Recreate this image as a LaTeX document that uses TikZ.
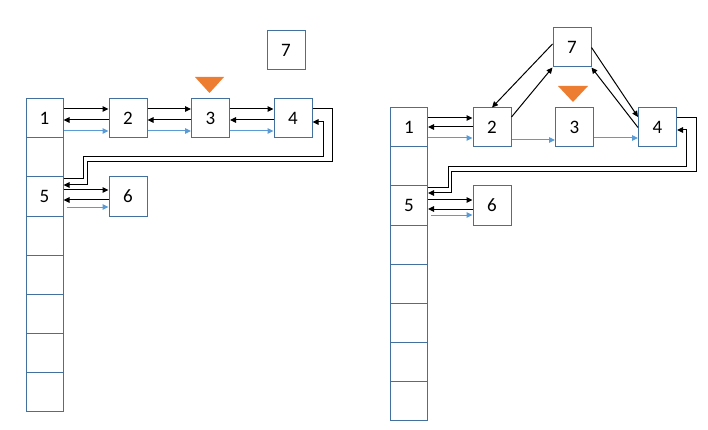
\documentclass[tikz,border=0pt]{standalone}
\usepackage{fontspec}
\setmainfont{Carlito}
\usetikzlibrary{calc,arrows.meta}
\definecolor{boxblue}{HTML}{41719C}
\definecolor{linkblue}{HTML}{5B9BD5}
\definecolor{marker}{HTML}{ED7D31}
\tikzset{
	box/.style={draw=boxblue, line width=1pt, minimum width=38pt, minimum height=39pt, inner sep=0pt, font=\fontsize{19}{20}\selectfont},
	cell/.style={box, minimum width=37pt},
	fwd/.style={line width=1pt, -{Triangle[length=6pt,width=5.5pt]}},
	lnk/.style={fwd, draw=linkblue, -{Triangle[length=6pt,width=5.5pt,fill=linkblue]}}
}
\begin{document}
\begin{tikzpicture}[x=1pt,y=-1pt]
		%%%%% START %%%%%
		\useasboundingbox (0,0) rectangle (708,430);
		
		%% left picture
		\foreach \i/\t in {1/1,2/,3/5,4/,5/,6/,7/,8/}
			\node[cell] (lc\i) at (44.5, {79.5+39*\i}) {\t};
		\node[box] (la2) at (128, 118.5) {2};
		\node[box] (la3) at (210.5, 118.5) {3};
		\node[box] (la4) at (293, 118.5) {4};
		\node[box] (la6) at (128, 196.5) {6};
		\node[box] (la7) at (286, 50.5) {7};
		\fill[marker] (195,77) -- (224,77) -- (209.5,93) -- cycle;
		
		\foreach \a/\b in {lc1/la2, la2/la3, la3/la4} {
			\draw[fwd] ($(\a.east)+(0,-9.5)$) -- ($(\b.west)+(0,-9.5)$);
			\draw[fwd] ($(\b.west)+(0,1.5)$) -- ($(\a.east)+(0,1.5)$);
			\draw[lnk] ($(\a.east)+(0,12.5)$) -- ($(\b.west)+(0,12.5)$);
		}
		\draw[fwd] ($(lc3.east)+(0,-6.5)$) -- ($(la6.west)+(0,-6.5)$);
		\draw[fwd] ($(la6.west)+(0,3.5)$) -- ($(lc3.east)+(0,3.5)$);
		\draw[lnk] ($(lc3.east)+(3,10.5)$) -- ($(la6.west)+(0,10.5)$);
		
		\draw[fwd] ($(la4.east)+(0,-9.5)$) -| (332,162) -| (87,185) -- ($(lc3.east)+(0,-11.5)$);
		\draw[fwd] ($(lc3.east)+(0,-17.5)$) -| (83,157) -| (323,122) -- ($(la4.east)+(0,3.5)$);
		
		%% right picture
		\foreach \i/\t in {1/1,2/,3/5,4/,5/,6/,7/,8/}
			\node[cell] (rc\i) at (409, {88.5+39*\i}) {\t};
		\node[box] (ra2) at (492, 127.5) {2};
		\node[box] (ra3) at (574.5, 127.5) {3};
		\node[box] (ra4) at (657.5, 127.5) {4};
		\node[box] (ra6) at (492, 205.5) {6};
		\node[box] (ra7) at (572, 47.5) {7};
		\fill[marker] (558,86) -- (588,86) -- (573,102) -- cycle;
		
		\draw[fwd] ($(rc1.east)+(0,-9.5)$) -- ($(ra2.west)+(0,-9.5)$);
		\draw[fwd] ($(ra2.west)+(0,-0.5)$) -- ($(rc1.east)+(0,-0.5)$);
		\draw[lnk] ($(rc1.east)+(0,10.5)$) -- ($(ra2.west)+(0,10.5)$);
		\draw[lnk] ($(ra2.east)+(0,12.5)$) -- ($(ra3.west)+(0,12.5)$);
		\draw[lnk] ($(ra3.east)+(0,10.5)$) -- ($(ra4.west)+(0,10.5)$);
		
		\draw[fwd] ($(ra7.west)+(0,-3.5)$) -- (ra2.north);
		\draw[fwd] ($(ra2.east)+(0,-10.5)$) -- (ra7.south west);
		\draw[fwd] (ra7.east) -- ($(ra4.west)+(0,-10.5)$);
		\draw[fwd] (ra4.west) -- (ra7.south east);
		
		\draw[fwd] ($(rc3.east)+(0,-5.5)$) -- ($(ra6.west)+(0,-5.5)$);
		\draw[fwd] ($(ra6.west)+(0,3.5)$) -- ($(rc3.east)+(0,3.5)$);
		\draw[lnk] ($(rc3.east)+(3,9.5)$) -- ($(ra6.west)+(0,9.5)$);
		
		\draw[fwd] ($(ra4.east)+(0,-9.5)$) -| (696,172) -| (451,193) -- ($(rc3.east)+(0,-12.5)$);
		\draw[fwd] ($(rc3.east)+(0,-17.5)$) -| (448,167) -| (686,130) -- ($(ra4.east)+(0,2.5)$);
		
		%%%%% END %%%%%
\end{tikzpicture}
\end{document}
